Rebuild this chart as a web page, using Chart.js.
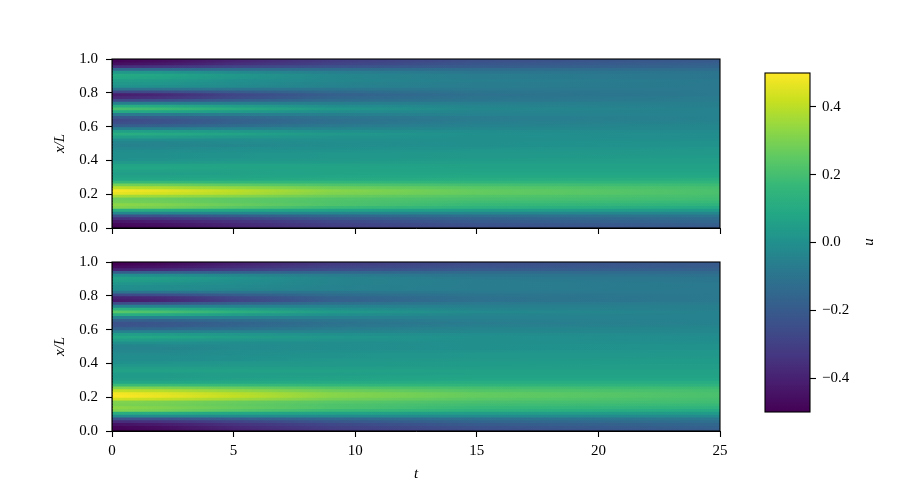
<!DOCTYPE html>
<html>
<head>
<meta charset="utf-8">
<style>
  body { margin: 0; background: #fff; }
  canvas { position: absolute; }
</style>
<script src="https://cdn.jsdelivr.net/npm/chart.js@4"></script>
</head>
<body>
<canvas id="topPanel" width="900" height="270" style="left:0;top:0"></canvas>
<canvas id="bottomPanel" width="900" height="485" style="left:0;top:0"></canvas>
<canvas id="colorbar" width="160" height="485" style="left:740px;top:0"></canvas>
<script>
// time samples (t) for every row below
const timeSamples = [0, 2, 5, 9, 15, 25];

// row centres in x/L, bottom to top
const rowCenters = [
    0.0083, 0.025, 0.0417, 0.0583, 0.075, 0.0917, 0.1083, 0.125, 0.1417, 0.1583,
    0.175, 0.1917, 0.2083, 0.225, 0.2417, 0.2583, 0.275, 0.2917, 0.3083, 0.325,
    0.3417, 0.3583, 0.375, 0.3917, 0.4083, 0.425, 0.4417, 0.4583, 0.475, 0.4917,
    0.5083, 0.525, 0.5417, 0.5583, 0.575, 0.5917, 0.6083, 0.625, 0.6417, 0.6583,
    0.675, 0.6917, 0.7083, 0.725, 0.7417, 0.7583, 0.775, 0.7917, 0.8083, 0.825,
    0.8417, 0.8583, 0.875, 0.8917, 0.9083, 0.925, 0.9417, 0.9583, 0.975, 0.9917
];

// u values, one row per x/L
const topRows = [
    [-0.50, -0.47, -0.40, -0.32, -0.25, -0.20],
    [-0.48, -0.45, -0.38, -0.30, -0.23, -0.18],
    [-0.44, -0.41, -0.35, -0.27, -0.20, -0.15],
    [-0.36, -0.34, -0.29, -0.22, -0.17, -0.13],
    [-0.24, -0.23, -0.19, -0.15, -0.12, -0.09],
    [-0.03, -0.03, -0.03, -0.03, -0.03, -0.03],
    [0.12, 0.11, 0.09, 0.07, 0.05, 0.04],
    [0.31, 0.29, 0.24, 0.18, 0.14, 0.10],
    [0.33, 0.31, 0.27, 0.22, 0.17, 0.14],
    [0.29, 0.28, 0.25, 0.22, 0.19, 0.17],
    [0.28, 0.27, 0.25, 0.23, 0.21, 0.19],
    [0.37, 0.35, 0.32, 0.27, 0.23, 0.20],
    [0.47, 0.44, 0.39, 0.31, 0.26, 0.21],
    [0.49, 0.46, 0.40, 0.32, 0.26, 0.21],
    [0.40, 0.38, 0.34, 0.28, 0.24, 0.20],
    [0.29, 0.28, 0.25, 0.22, 0.20, 0.18],
    [0.17, 0.17, 0.16, 0.16, 0.15, 0.15],
    [0.08, 0.08, 0.09, 0.10, 0.11, 0.12],
    [0.06, 0.06, 0.07, 0.08, 0.09, 0.09],
    [0.05, 0.05, 0.06, 0.07, 0.08, 0.08],
    [0.06, 0.06, 0.06, 0.07, 0.07, 0.07],
    [0.08, 0.08, 0.07, 0.07, 0.06, 0.06],
    [0.07, 0.07, 0.07, 0.06, 0.06, 0.06],
    [0.03, 0.03, 0.04, 0.04, 0.05, 0.05],
    [0.00, 0.01, 0.02, 0.03, 0.04, 0.05],
    [0.00, 0.00, 0.01, 0.02, 0.03, 0.04],
    [0.00, 0.00, 0.01, 0.02, 0.03, 0.03],
    [-0.01, -0.01, 0.00, 0.01, 0.02, 0.03],
    [-0.03, -0.03, -0.01, 0.00, 0.01, 0.02],
    [-0.05, -0.04, -0.03, -0.01, 0.00, 0.01],
    [-0.04, -0.04, -0.02, -0.01, 0.00, 0.01],
    [-0.01, -0.01, -0.01, 0.00, 0.00, 0.00],
    [0.06, 0.05, 0.03, 0.01, 0.00, -0.01],
    [0.12, 0.10, 0.07, 0.03, 0.00, -0.01],
    [0.06, 0.05, 0.03, 0.00, -0.01, -0.02],
    [-0.06, -0.06, -0.05, -0.04, -0.03, -0.03],
    [-0.19, -0.17, -0.13, -0.08, -0.05, -0.03],
    [-0.25, -0.23, -0.17, -0.11, -0.06, -0.04],
    [-0.27, -0.24, -0.18, -0.12, -0.07, -0.05],
    [-0.21, -0.19, -0.15, -0.10, -0.07, -0.05],
    [-0.08, -0.08, -0.07, -0.06, -0.05, -0.05],
    [0.10, 0.08, 0.04, -0.01, -0.04, -0.05],
    [0.21, 0.18, 0.11, 0.03, -0.03, -0.05],
    [0.12, 0.10, 0.05, -0.01, -0.04, -0.06],
    [-0.06, -0.06, -0.06, -0.06, -0.06, -0.06],
    [-0.27, -0.25, -0.19, -0.13, -0.09, -0.07],
    [-0.38, -0.35, -0.26, -0.16, -0.10, -0.07],
    [-0.42, -0.38, -0.28, -0.18, -0.11, -0.08],
    [-0.28, -0.26, -0.20, -0.14, -0.10, -0.08],
    [-0.10, -0.10, -0.09, -0.09, -0.08, -0.08],
    [0.01, 0.00, -0.02, -0.05, -0.07, -0.08],
    [0.03, 0.02, -0.01, -0.04, -0.07, -0.08],
    [0.05, 0.04, 0.00, -0.03, -0.06, -0.08],
    [0.09, 0.07, 0.02, -0.03, -0.07, -0.09],
    [0.10, 0.08, 0.03, -0.03, -0.07, -0.09],
    [0.03, 0.02, -0.02, -0.06, -0.09, -0.10],
    [-0.15, -0.15, -0.14, -0.14, -0.13, -0.13],
    [-0.36, -0.34, -0.28, -0.23, -0.19, -0.16],
    [-0.46, -0.43, -0.36, -0.29, -0.22, -0.18],
    [-0.49, -0.46, -0.39, -0.31, -0.24, -0.20]
];

// u values, one row per x/L
const bottomRows = [
    [-0.50, -0.47, -0.40, -0.32, -0.25, -0.19],
    [-0.49, -0.46, -0.38, -0.30, -0.23, -0.17],
    [-0.45, -0.42, -0.35, -0.27, -0.20, -0.15],
    [-0.37, -0.35, -0.29, -0.22, -0.16, -0.12],
    [-0.24, -0.23, -0.19, -0.15, -0.11, -0.08],
    [-0.02, -0.02, -0.02, -0.02, -0.02, -0.02],
    [0.12, 0.11, 0.09, 0.07, 0.05, 0.04],
    [0.31, 0.29, 0.24, 0.18, 0.14, 0.10],
    [0.33, 0.31, 0.27, 0.22, 0.17, 0.14],
    [0.30, 0.29, 0.26, 0.22, 0.19, 0.17],
    [0.31, 0.30, 0.27, 0.24, 0.21, 0.19],
    [0.43, 0.41, 0.36, 0.29, 0.24, 0.20],
    [0.50, 0.47, 0.41, 0.32, 0.26, 0.21],
    [0.49, 0.46, 0.40, 0.32, 0.26, 0.21],
    [0.41, 0.39, 0.34, 0.28, 0.23, 0.20],
    [0.31, 0.30, 0.27, 0.23, 0.20, 0.18],
    [0.18, 0.18, 0.17, 0.16, 0.15, 0.14],
    [0.08, 0.08, 0.09, 0.10, 0.11, 0.11],
    [0.05, 0.05, 0.06, 0.07, 0.08, 0.08],
    [0.04, 0.04, 0.05, 0.06, 0.07, 0.07],
    [0.04, 0.04, 0.05, 0.05, 0.06, 0.06],
    [0.06, 0.06, 0.06, 0.06, 0.06, 0.06],
    [0.05, 0.05, 0.05, 0.05, 0.05, 0.05],
    [0.02, 0.02, 0.03, 0.03, 0.04, 0.05],
    [0.00, 0.01, 0.02, 0.03, 0.04, 0.04],
    [-0.01, -0.01, 0.00, 0.02, 0.03, 0.04],
    [-0.01, -0.01, 0.00, 0.01, 0.02, 0.03],
    [-0.02, -0.02, -0.01, 0.01, 0.02, 0.02],
    [-0.03, -0.03, -0.01, 0.00, 0.01, 0.02],
    [-0.04, -0.04, -0.02, -0.01, 0.00, 0.01],
    [-0.04, -0.03, -0.02, -0.01, 0.00, 0.01],
    [0.00, 0.00, -0.01, -0.01, 0.00, 0.00],
    [0.05, 0.04, 0.02, 0.01, 0.00, -0.01],
    [0.09, 0.08, 0.05, 0.02, 0.00, -0.01],
    [0.05, 0.04, 0.02, 0.00, -0.01, -0.02],
    [-0.05, -0.05, -0.04, -0.04, -0.03, -0.03],
    [-0.17, -0.15, -0.12, -0.07, -0.04, -0.03],
    [-0.23, -0.21, -0.16, -0.10, -0.06, -0.04],
    [-0.24, -0.22, -0.17, -0.11, -0.07, -0.05],
    [-0.18, -0.17, -0.13, -0.09, -0.06, -0.05],
    [-0.05, -0.05, -0.05, -0.05, -0.05, -0.05],
    [0.12, 0.10, 0.05, 0.00, -0.04, -0.05],
    [0.24, 0.21, 0.13, 0.04, -0.02, -0.05],
    [0.14, 0.12, 0.06, 0.00, -0.04, -0.06],
    [-0.05, -0.05, -0.05, -0.05, -0.06, -0.06],
    [-0.26, -0.24, -0.18, -0.12, -0.08, -0.07],
    [-0.43, -0.39, -0.29, -0.18, -0.11, -0.08],
    [-0.40, -0.37, -0.27, -0.17, -0.11, -0.08],
    [-0.27, -0.25, -0.19, -0.13, -0.10, -0.08],
    [-0.10, -0.10, -0.09, -0.09, -0.08, -0.08],
    [-0.01, -0.01, -0.03, -0.05, -0.07, -0.08],
    [0.00, -0.01, -0.02, -0.05, -0.07, -0.08],
    [0.02, 0.01, -0.01, -0.04, -0.07, -0.08],
    [0.05, 0.04, 0.00, -0.04, -0.07, -0.09],
    [0.06, 0.05, 0.01, -0.04, -0.08, -0.09],
    [0.00, -0.01, -0.03, -0.07, -0.10, -0.11],
    [-0.19, -0.18, -0.17, -0.15, -0.14, -0.14],
    [-0.40, -0.37, -0.31, -0.25, -0.20, -0.17],
    [-0.47, -0.44, -0.37, -0.29, -0.23, -0.19],
    [-0.50, -0.47, -0.40, -0.32, -0.25, -0.20]
];

const xTicksStep = 5;
const yTicksStep = 0.2;
const colorbarRange = [-0.5, 0.5];
const colorbarTicks = [-0.4, -0.2, 0, 0.2, 0.4];

// viridis, evenly spaced from lowest to highest u
const viridis = [
    '#440154', '#481c6e', '#453781', '#3d4e8a', '#33638d', '#2a788e', '#21908d',
    '#22a785', '#35b779', '#5dc963', '#8fd744', '#c7e020', '#fde725'
];

const serif = '"Liberation Serif", "Times New Roman", serif';

function hexToRgb(hex) {
    return [1, 3, 5].map(i => parseInt(hex.substr(i, 2), 16));
}

// maps u to a colour on the -0.5..0.5 range
function colorFor(u) {
    const pos = Math.min(Math.max((u + 0.5), 0), 1) * (viridis.length - 1);
    const i = Math.min(Math.floor(pos), viridis.length - 2);
    const a = hexToRgb(viridis[i]);
    const b = hexToRgb(viridis[i + 1]);
    const mix = a.map((v, k) => Math.round(v + (b[k] - v) * (pos - i)));
    return `rgb(${mix[0]},${mix[1]},${mix[2]})`;
}

const framePlugin = {
    id: 'frame',
    afterDatasetsDraw(chart) {
        const a = chart.chartArea;
        const ctx = chart.ctx;
        ctx.save();
        ctx.strokeStyle = '#000';
        ctx.lineWidth = 1.1;
        ctx.strokeRect(a.left, a.top, a.right - a.left, a.bottom - a.top);
        ctx.restore();
    }
};

// colorbar label reads bottom to top, the scale title would turn it the other way
const colorbarLabelPlugin = {
    id: 'colorbarLabel',
    afterDraw(chart) {
        const ctx = chart.ctx;
        ctx.save();
        ctx.translate(chart.width - 31, 242);
        ctx.rotate(-Math.PI / 2);
        ctx.font = `italic 15px ${serif}`;
        ctx.fillStyle = '#000';
        ctx.textAlign = 'center';
        ctx.textBaseline = 'middle';
        ctx.fillText('u', 0, 0);
        ctx.restore();
    }
};

function makePanel(id, rows, isBottom) {
    return new Chart(document.getElementById(id), {
        type: 'bar',
        data: {
            labels: rowCenters,
            datasets: [{
                data: rows.map(() => [timeSamples[0], timeSamples[timeSamples.length - 1]]),
                // each row fades through its values along t
                backgroundColor(c) {
                    const xs = c.chart.scales.x;
                    if (!xs || c.dataIndex === undefined || !isFinite(xs.left) || !isFinite(xs.right)) return '#000';
                    const g = c.chart.ctx.createLinearGradient(xs.left, 0, xs.right, 0);
                    timeSamples.forEach((t, i) => {
                        g.addColorStop(t / timeSamples[timeSamples.length - 1], colorFor(rows[c.dataIndex][i]));
                    });
                    return g;
                },
                // rows overlap a little so no white seams show between them
                barPercentage: 1.4,
                categoryPercentage: 1,
                borderWidth: 0
            }]
        },
        options: {
            indexAxis: 'y',
            responsive: false,
            animation: false,
            layout: {
                autoPadding: false,
                padding: { left: 51, right: 180, top: isBottom ? 262 : 59, bottom: 0 }
            },
            plugins: { legend: { display: false }, tooltip: { enabled: false } },
            scales: {
                y: { display: false, reverse: true },
                x: {
                    type: 'linear',
                    min: 0,
                    max: 25,
                    // room under the top panel keeps the bottom 0.0 label from shrinking the plot
                    afterFit(axis) { axis.height = isBottom ? 54 : 42; },
                    border: { color: '#000', width: 1 },
                    grid: { drawOnChartArea: false, tickLength: 6, tickColor: '#000', tickWidth: 1.1 },
                    ticks: {
                        display: isBottom,
                        stepSize: xTicksStep,
                        color: '#000',
                        maxRotation: 0,
                        padding: 5,
                        font: { family: serif, size: 15 }
                    },
                    title: {
                        display: isBottom,
                        text: 't',
                        color: '#000',
                        padding: { top: 4, bottom: 2 },
                        font: { family: serif, size: 15, style: 'italic' }
                    }
                },
                yTicks: {
                    type: 'linear',
                    position: 'left',
                    min: 0,
                    max: 1,
                    offset: false,
                    afterFit(axis) { axis.width = 61; },
                    border: { color: '#000', width: 1 },
                    grid: { offset: false, drawOnChartArea: false, tickLength: 6, tickColor: '#000', tickWidth: 1.1 },
                    ticks: {
                        stepSize: yTicksStep,
                        color: '#000',
                        padding: 8,
                        font: { family: serif, size: 15 },
                        callback: v => v.toFixed(1)
                    },
                    title: {
                        display: true,
                        text: 'x/L',
                        color: '#000',
                        padding: 0,
                        font: { family: serif, size: 15, style: 'italic' }
                    }
                }
            }
        },
        plugins: [framePlugin]
    });
}

makePanel('topPanel', topRows, false);
makePanel('bottomPanel', bottomRows, true);

new Chart(document.getElementById('colorbar'), {
    type: 'bar',
    data: {
        labels: ['u'],
        datasets: [{
            data: [colorbarRange],
            backgroundColor(c) {
                const ys = c.chart.scales.y;
                if (!ys || !isFinite(ys.top) || !isFinite(ys.bottom)) return '#000';
                const g = c.chart.ctx.createLinearGradient(0, ys.bottom, 0, ys.top);
                viridis.forEach((col, i) => g.addColorStop(i / (viridis.length - 1), col));
                return g;
            },
            barPercentage: 1,
            categoryPercentage: 1,
            borderWidth: 0
        }]
    },
    options: {
        responsive: false,
        animation: false,
        layout: { autoPadding: false, padding: { left: 25, right: 30, top: 73, bottom: 73 } },
        plugins: { legend: { display: false }, tooltip: { enabled: false } },
        scales: {
            x: { display: false },
            y: {
                position: 'right',
                min: colorbarRange[0],
                max: colorbarRange[1],
                afterFit(axis) { axis.width = 60; },
                border: { display: false },
                grid: { drawOnChartArea: false, tickLength: 6, tickColor: '#000', tickWidth: 1.1 },
                afterBuildTicks(axis) {
                    axis.ticks = colorbarTicks.map(v => ({ value: v }));
                },
                ticks: {
                    color: '#000',
                    padding: 6,
                    font: { family: serif, size: 15 },
                    callback: v => (v < 0 ? '\u2212' : '') + Math.abs(v).toFixed(1)
                }
            }
        }
    },
    plugins: [framePlugin, colorbarLabelPlugin]
});
</script>
</body>
</html>
